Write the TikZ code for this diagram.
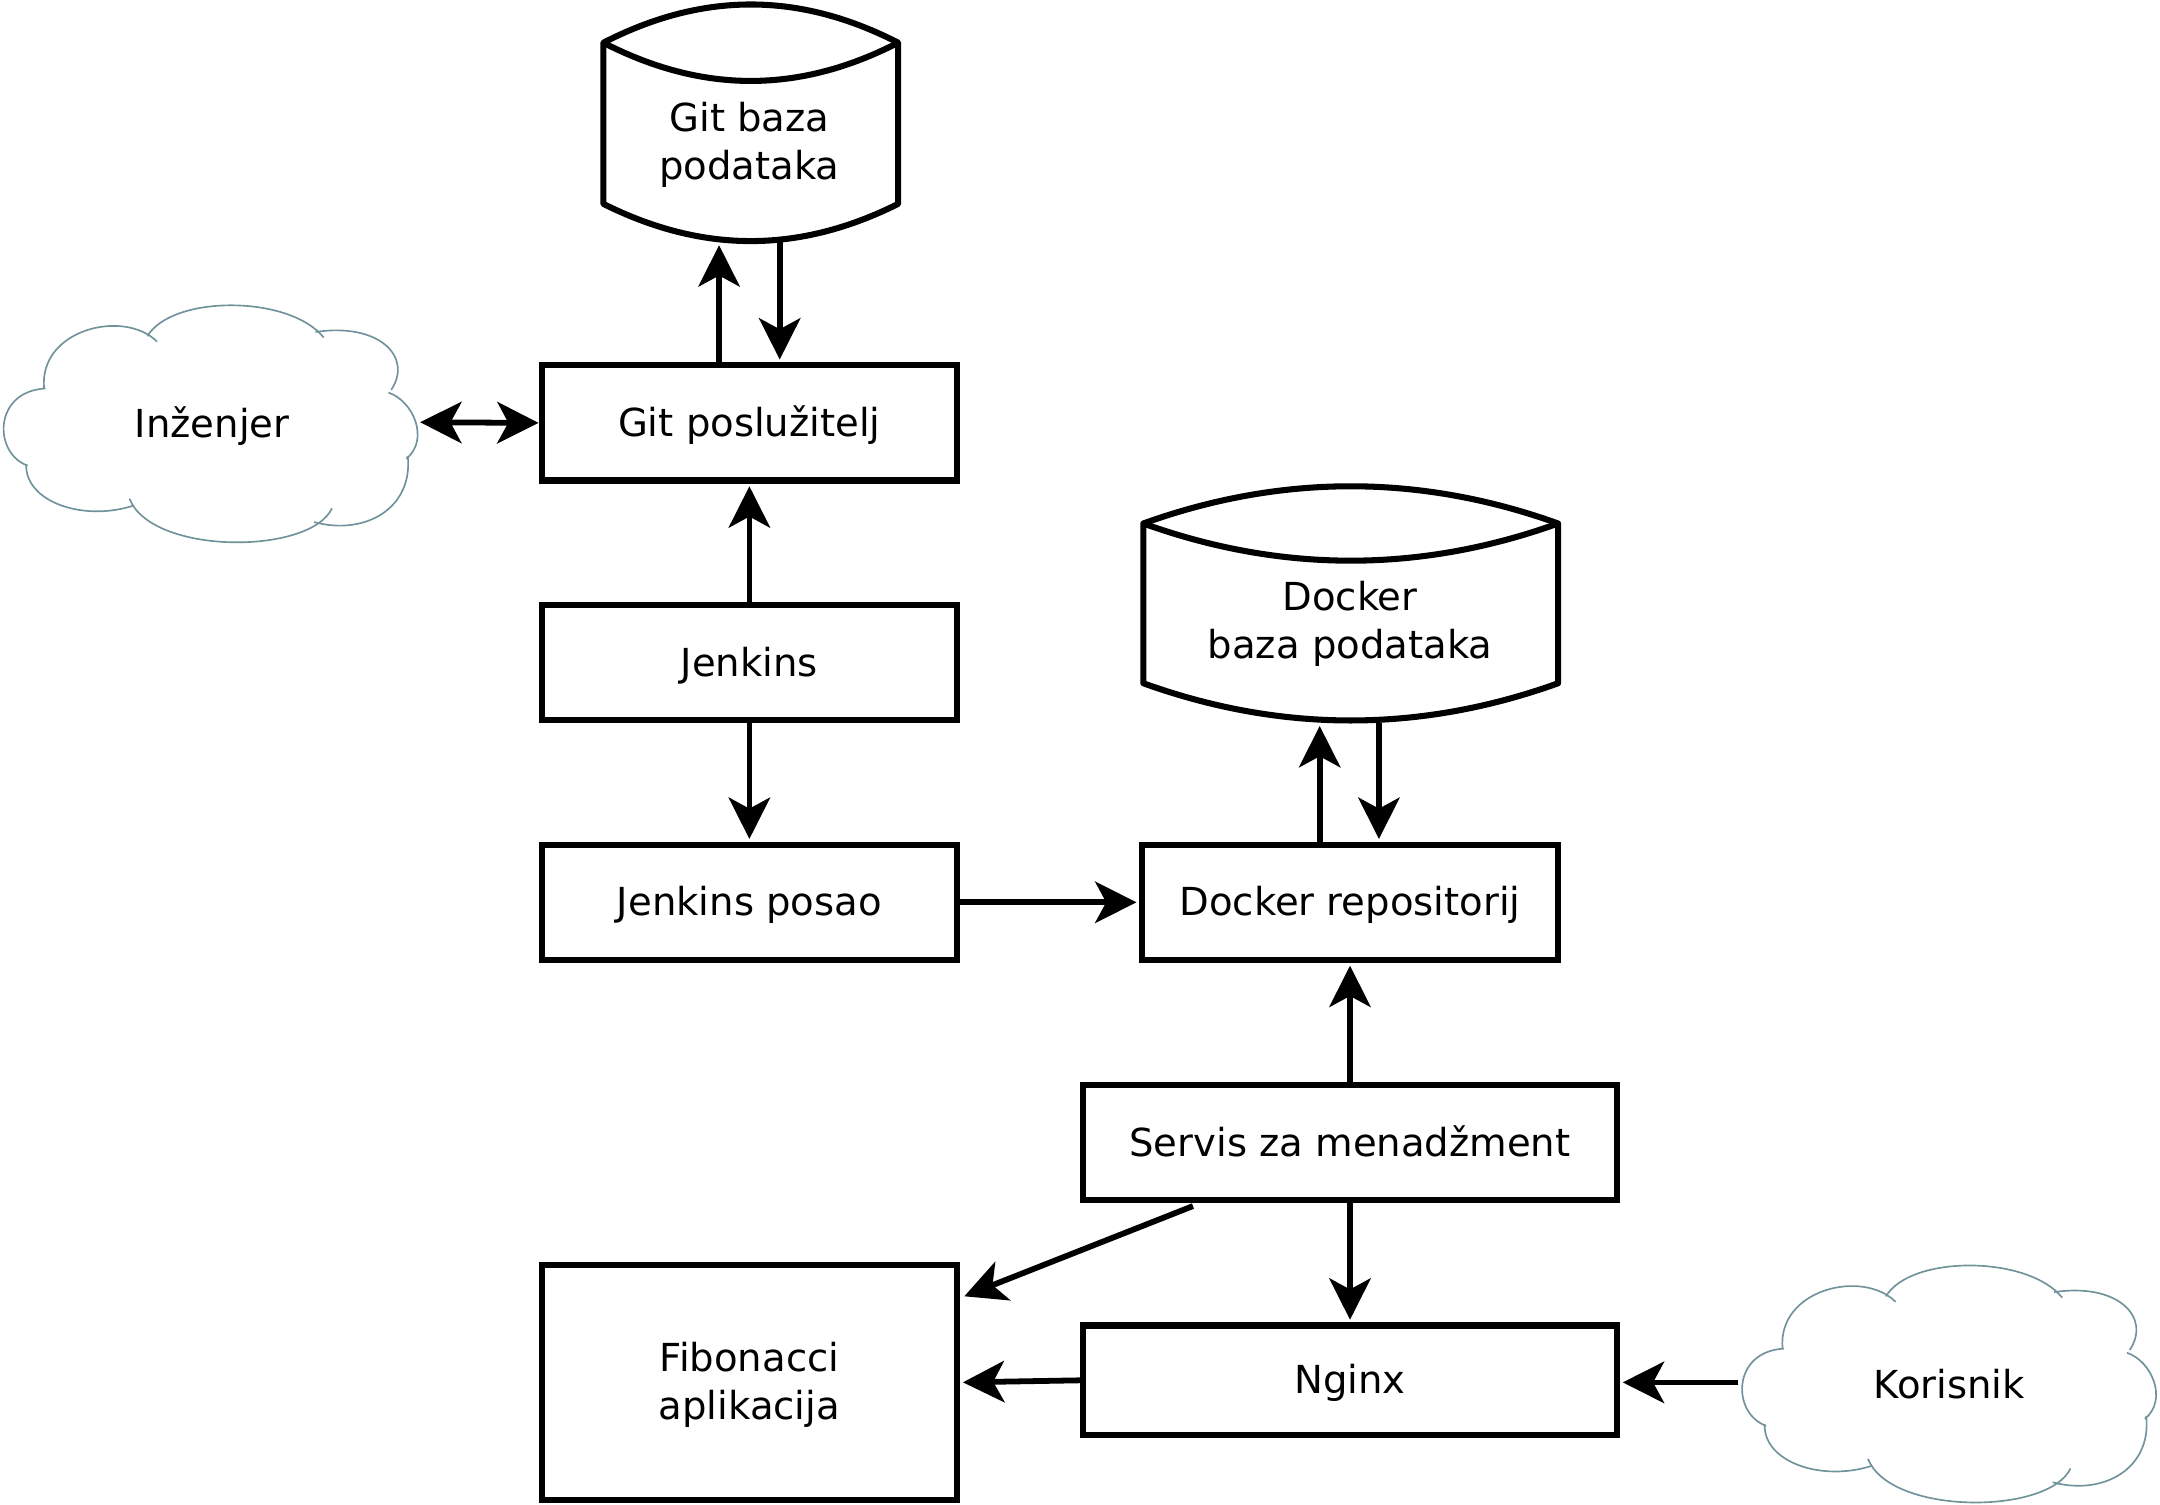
\documentclass[tikz,border=0pt]{standalone}
\usepackage{fontspec}
\setmainfont{DejaVu Sans}
\usetikzlibrary{arrows.meta}
\definecolor{cloudc}{RGB}{112,146,154}
\tikzset{
  box/.style={draw=black, line width=2.2pt, rectangle, inner sep=0pt, outer sep=auto,
              minimum width=150.8pt, minimum height=41.8pt, align=center,
              text height=13.2pt, text depth=3.3pt,
              font=\fontsize{14}{17.5}\selectfont},
  widebox/.style={box, minimum width=193.8pt},
  ghost/.style={rectangle, inner sep=0pt, outer sep=0pt},
  lbl/.style={align=center, font=\fontsize{14}{17.5}\selectfont},
  dbline/.style={line width=2.2pt, line join=round},
  cloudline/.style={draw=cloudc, line width=0.6pt},
  conn/.style={line width=2.1pt, -{Stealth[length=15pt,width=15pt,inset=4pt]}, shorten >=1pt},
  conn2/.style={line width=2.1pt, {Stealth[length=15pt,width=15pt,inset=4pt]}-{Stealth[length=15pt,width=15pt,inset=4pt]}}
}
\newcommand{\cloudpath}{%
  \draw[cloudline] (32,63) .. controls (28,20) and (90,5) .. (114,29);
  \draw[cloudline] (107,25) .. controls (125,-5) and (210,-5) .. (235,26);
  \draw[cloudline] (229,22) .. controls (275,15) and (300,40) .. (284,64);
  \draw[cloudline] (282,66) .. controls (300,72) and (312,100) .. (295,114);
  \draw[cloudline] (296,112) .. controls (300,150) and (265,170) .. (228,160);
  \draw[cloudline] (241,150) .. controls (225,184) and (110,184) .. (94,143);
  \draw[cloudline] (97,148) .. controls (60,160) and (18,145) .. (19,118);
  \draw[cloudline] (20,119) .. controls (-5,110) and (-5,65) .. (33,63);
}
\begin{document}
\begin{tikzpicture}[x=0.5pt,y=-0.5pt]
\useasboundingbox (0,0) rectangle (1568,1092.5);

% clouds
\begin{scope}[shift={(0,219)}]\cloudpath\end{scope}
\begin{scope}[shift={(1262,916)}]\cloudpath\end{scope}
\node[ghost, minimum width=152.5pt, minimum height=87.5pt] (inz) at (152.5,306.5) {};
\node[lbl] at (154,309) {Inženjer};
\node[ghost, minimum width=153pt, minimum height=87.5pt] (kor) at (1415,1003.5) {};
\node[lbl] at (1415,1005) {Korisnik};

% Git database cylinder
\draw[dbline] (438,31) .. controls (510,-6) and (580,-6) .. (652,31)
  -- (652,148) .. controls (580,184) and (510,184) .. (438,148) -- cycle;
\draw[dbline] (438,31) .. controls (510,68) and (580,68) .. (652,31);
\node[ghost, minimum width=109pt, minimum height=87pt] (gitdb) at (545,89) {};
\node[lbl] at (544,105) {Git baza\\podataka};

% Docker database cylinder
\draw[dbline] (830,380) .. controls (930,344) and (1031,344) .. (1131,380)
  -- (1131,496) .. controls (1031,532) and (930,532) .. (830,496) -- cycle;
\draw[dbline] (830,380) .. controls (930,416) and (1031,416) .. (1131,380);
\node[ghost, minimum width=152.5pt, minimum height=87pt] (dockdb) at (980.5,438) {};
\node[lbl] at (980,453) {Docker\\baza podataka};

% boxes
\node[box] (gitpos) at (544,307) {Git poslužitelj};
\node[box] (jenkins) at (544,481) {Jenkins};
\node[box] (jposao) at (544,655) {Jenkins posao};
\node[box] (dockrepo) at (980,655) {Docker repositorij};
\node[widebox] (servis) at (980,829.5) {Servis za menadžment};
\node[widebox, minimum height=39.8pt] (nginx) at (980,1002) {Nginx};
\node[box, minimum height=85.3pt, text height=30.1pt, text depth=3.3pt] (fib) at (544,1003.5) {Fibonacci\\aplikacija};

% connectors
\draw[conn] ([xshift=-11pt]gitpos.north) -- ([xshift=-11pt]gitpos.north |- gitdb.south);
\draw[conn] ([xshift=11pt]gitpos.north |- gitdb.south) -- ([xshift=11pt]gitpos.north);
\draw[conn2] (inz.east) -- (gitpos.west);
\draw[conn] (jenkins.north) -- (gitpos.south);
\draw[conn] (jenkins.south) -- (jposao.north);
\draw[conn] (jposao.east) -- (dockrepo.west);
\draw[conn] ([xshift=-11pt]dockrepo.north) -- ([xshift=-11pt]dockrepo.north |- dockdb.south);
\draw[conn] ([xshift=10.5pt]dockrepo.north |- dockdb.south) -- ([xshift=10.5pt]dockrepo.north);
\draw[conn] (servis.north) -- (dockrepo.south);
\draw[conn] (servis.south) -- (nginx.north);
\draw[conn, shorten >=0pt] ([xshift=-57pt,yshift=-1pt]servis.south) -- ([xshift=1.5pt,yshift=-12.5pt]fib.north east);
\draw[conn] (nginx.west) -- (fib.east);
\draw[conn] (kor.west) -- (nginx.east |- kor.west);
\end{tikzpicture}
\end{document}
